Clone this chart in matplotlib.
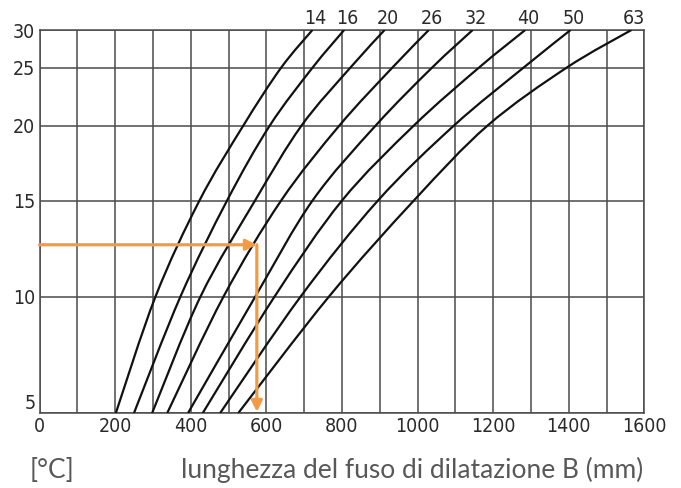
import numpy as np
import matplotlib
matplotlib.use("Agg")
import matplotlib.pyplot as plt
from matplotlib.path import Path
from matplotlib.patches import PathPatch

# diametri delle tubazioni (etichette in alto)
diam = [14, 16, 20, 26, 32, 40, 50, 63]

temp = [5, 10, 15, 20, 25, 30]
# lunghezza B (mm) letta per ogni curva alle temperature sopra
length = [
    [202, 307, 423, 539, 639, 722],     # 14
    [250, 373, 496, 609, 722, 806],     # 16
    [298, 426, 570, 693, 822, 913],     # 20
    [338, 487, 639, 793, 933, 1030],    # 26
    [393, 571, 722, 889, 1038, 1146],   # 32
    [432, 622, 800, 990, 1162, 1285],   # 40
    [478, 691, 895, 1096, 1280, 1405],  # 50
    [526, 766, 990, 1185, 1394, 1566],  # 63
]

# esempio di lettura (freccia arancione)
ex_temp = 12.7
ex_len = 575

x_ticks = list(range(0, 1601, 200))
y_ticks = [5, 10, 15, 20, 25, 30]
# spaziatura non lineare dell'asse verticale stampato
y_tick_pos = [0, 116.5, 212.3, 287.3, 345.2, 383.0]


def _lin(v, xp, fp):
    v = np.asarray(v, dtype=float)
    flat = np.atleast_1d(v).ravel()
    out = np.interp(flat, xp, fp)
    s0 = (fp[1] - fp[0]) / (xp[1] - xp[0])
    s1 = (fp[-1] - fp[-2]) / (xp[-1] - xp[-2])
    out = np.where(flat < xp[0], fp[0] + (flat - xp[0]) * s0, out)
    out = np.where(flat > xp[-1], fp[-1] + (flat - xp[-1]) * s1, out)
    return out.reshape(v.shape)


def fwd(v):
    return _lin(v, y_ticks, y_tick_pos)


def inv(v):
    return _lin(v, y_tick_pos, y_ticks)


def smooth_path(pts):
    # curva Catmull-Rom -> Bezier che passa per tutti i punti letti
    p = np.vstack([pts[0], pts, pts[-1]])
    verts = [p[1]]
    codes = [Path.MOVETO]
    for i in range(1, len(p) - 2):
        c1 = p[i] + (p[i + 1] - p[i - 1]) / 6
        c2 = p[i + 1] - (p[i + 2] - p[i]) / 6
        verts += [c1, c2, p[i + 1]]
        codes += [Path.CURVE4] * 3
    return Path(verts, codes)


plt.rcParams['font.family'] = ['DejaVu Sans']
plt.rcParams['font.stretch'] = 'condensed'

fig = plt.figure(figsize=(6.81, 4.88), dpi=100)
W, H = 681, 488
ax = fig.add_axes([39.5 / W, 1 - 413 / H, (644.3 - 39.5) / W, (413 - 30) / H])

grid_c = '#4a4a4a'
ax.set_yscale('function', functions=(fwd, inv))
ax.set_xlim(0, 1600)
ax.set_ylim(5, 30)
ax.set_xticks(x_ticks)
ax.set_xticks(range(100, 1600, 200), minor=True)
ax.set_yticks(y_ticks)
ax.grid(True, which='both', axis='x', color=grid_c, lw=1.1, zorder=0)
ax.grid(True, which='major', axis='y', color=grid_c, lw=1.1, zorder=0)
ax.set_axisbelow(True)
ax.tick_params(which='both', length=0, labelsize=14, colors='#2a2a2a')
ax.tick_params(axis='y', pad=3)
ax.tick_params(axis='x', pad=3)
for sp in ax.spines.values():
    sp.set_color(grid_c)
    sp.set_linewidth(1.1)

ylab = ax.get_yticklabels()
ylab[0].set_va('bottom')

to_axes = ax.transScale + ax.transLimits
for i, d in enumerate(diam):
    t = np.array(temp, dtype=float)
    b = np.array(length[i], dtype=float)
    pts = to_axes.transform(np.column_stack([b, t]))
    ax.add_patch(PathPatch(smooth_path(pts), fill=False, ec='#111111',
                           lw=1.6, transform=ax.transAxes, zorder=3))
    ax.annotate(str(d), xy=(b[-1], t[-1]), xytext=(2, 1.5),
                textcoords='offset points', ha='center', va='bottom',
                fontsize=14, color='#2a2a2a', annotation_clip=False)

orange = '#f39a45'
ax.annotate('', xy=(ex_len, ex_temp), xytext=(0, ex_temp),
            arrowprops=dict(arrowstyle='-|>', color=orange, lw=2.3,
                            mutation_scale=16, shrinkA=0, shrinkB=0),
            zorder=4)
ax.annotate('', xy=(ex_len, 5.05), xytext=(ex_len, ex_temp),
            arrowprops=dict(arrowstyle='-|>', color=orange, lw=2.3,
                            mutation_scale=16, shrinkA=0, shrinkB=0),
            zorder=4)

lab_font = dict(family=['Lato', 'DejaVu Sans'], fontweight='normal',
                fontstretch='normal', fontsize=19, color='#585858')
fig.text(30 / W, 1 - 470 / H, '[°C]', va='center', ha='left', **lab_font)
fig.text(643 / W, 1 - 470 / H, 'lunghezza del fuso di dilatazione B (mm)',
         va='center', ha='right', **lab_font)

fig.savefig('out.png', dpi=100)
